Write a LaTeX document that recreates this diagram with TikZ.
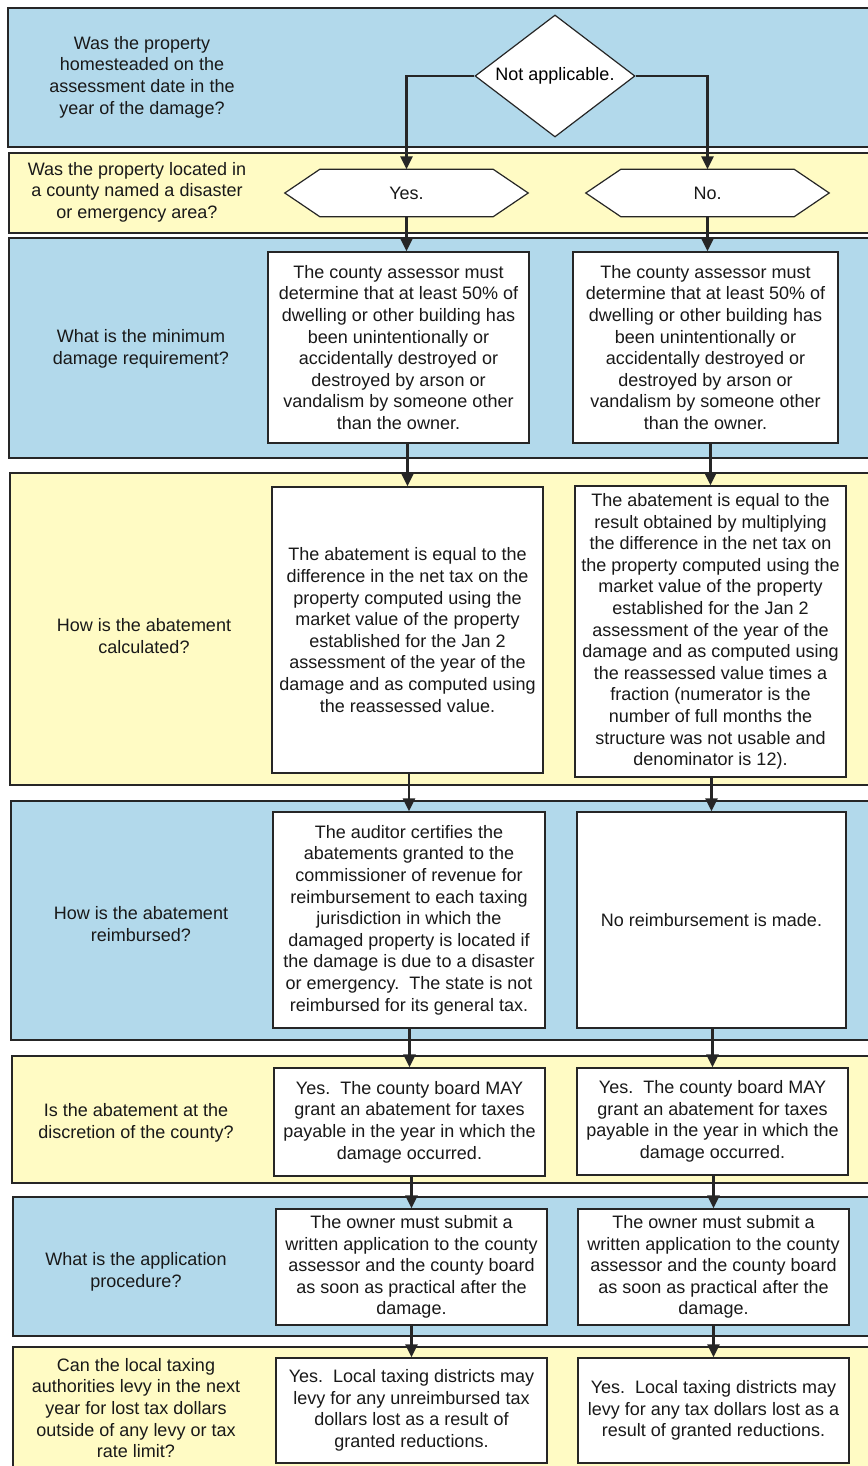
\documentclass[tikz,border=0pt]{standalone}
\usepackage{fontspec}
\setmainfont{Liberation Sans}
\usetikzlibrary{arrows.meta,shapes.geometric}
\definecolor{bandblue}{RGB}{178,217,235}
\definecolor{bandyellow}{RGB}{255,251,196}
\definecolor{ink}{RGB}{38,38,38}
\begin{document}
\begin{tikzpicture}[x=1pt,y=-1pt,
  font=\fontsize{18}{21.6}\selectfont,
  blueband/.style={fill=bandblue,draw=ink,line width=1.5pt},
  yellowband/.style={fill=bandyellow,draw=ink,line width=1.5pt},
  question/.style={align=center,text=black!90,inner sep=0},
  answerbox/.style={draw=ink,fill=white,line width=1.2pt,align=center,inner sep=0,text=black!90},
  hexnode/.style={inner sep=0,minimum width=243pt,minimum height=47pt},
  flow/.style={draw=ink,line width=2.6pt,-{Triangle[length=13pt,width=12pt]}}]
\useasboundingbox (0,0) rectangle (867,1466);
% bands
\path[blueband] (8,8) rectangle (872,147);
\path[yellowband] (9,153) rectangle (872,233);
\path[blueband] (9,238) rectangle (872,458);
\path[yellowband] (10,473) rectangle (872,785);
\path[blueband] (11,801) rectangle (872,1040);
\path[yellowband] (12,1056) rectangle (872,1183);
\path[blueband] (13,1197) rectangle (872,1336);
\path[yellowband] (13,1347) rectangle (872,1475);
% questions
\node[question] (q1) at (142,77) {Was the property\\homesteaded on the\\assessment date in the\\year of the damage?};
\node[question] (q2) at (137,192) {Was the property located in\\a county named a disaster\\or emergency area?};
\node[question] (q3) at (141,349) {What is the minimum\\damage requirement?};
\node[question] (q4) at (144,636) {How is the abatement\\calculated?};
\node[question] (q5) at (141,924) {How is the abatement\\reimbursed?};
\node[question] (q6) at (136,1123) {Is the abatement at the\\discretion of the county?};
\node[question] (q7) at (136,1272) {What is the application\\procedure?};
\node[question] (q8) at (136,1408) {Can the local taxing\\authorities levy in the next\\year for lost tax dollars\\outside of any levy or tax\\rate limit?};
% diamond
\node[diamond,draw=ink,fill=white,line width=1.2pt,inner sep=0,aspect=1.31,minimum width=160pt,minimum height=122pt] (na) at (555,76) {Not applicable.};
% hexagons (outline drawn from node anchors)
\node[hexnode] (yes) at (406.5,193) {};
\node[hexnode] (no) at (707.5,193) {};
\foreach \h in {yes,no}{
  \draw[draw=ink,fill=white,line width=1.2pt] (\h.west) -- ([xshift=35pt]\h.north west) -- ([xshift=-35pt]\h.north east) -- (\h.east) -- ([xshift=-35pt]\h.south east) -- ([xshift=35pt]\h.south west) -- cycle;
}
\node[text=black!90] (yeslabel) at (yes) {Yes.};
\node[text=black!90] (nolabel) at (no) {No.};
% band 3
\node[answerbox,minimum width=261pt,minimum height=191pt] (b3l) at (398.5,347.5) {The county assessor must\\determine that at least 50\% of\\dwelling or other building has\\been unintentionally or\\accidentally destroyed or\\destroyed by arson or\\vandalism by someone other\\than the owner.};
\node[answerbox,minimum width=265pt,minimum height=191pt] (b3r) at (705.5,347.5) {The county assessor must\\determine that at least 50\% of\\dwelling or other building has\\been unintentionally or\\accidentally destroyed or\\destroyed by arson or\\vandalism by someone other\\than the owner.};
% band 4
\node[answerbox,minimum width=271pt,minimum height=286pt] (b4l) at (407.5,630) {The abatement is equal to the\\difference in the net tax on the\\property computed using the\\market value of the property\\established for the Jan 2\\assessment of the year of the\\damage and as computed using\\the reassessed value.};
\node[answerbox,minimum width=271pt,minimum height=291pt] (b4r) at (710.5,631.5) {The abatement is equal to the\\result obtained by multiplying\\the difference in the net tax on\\the property computed using the\\market value of the property\\established for the Jan 2\\assessment of the year of the\\damage and as computed using\\the reassessed value times a\\fraction (numerator is the\\number of full months the\\structure was not usable and\\denominator is 12).};
% band 5
\node[answerbox,minimum width=272pt,minimum height=216pt] (b5l) at (409,920) {The auditor certifies the\\abatements granted to the\\commissioner of revenue for\\reimbursement to each taxing\\jurisdiction in which the\\damaged property is located if\\the damage is due to a disaster\\or emergency.\ \ The state is not\\reimbursed for its general tax.};
\node[answerbox,minimum width=269pt,minimum height=216pt] (b5r) at (711.5,920) {No reimbursement is made.};
% band 6
\node[answerbox,minimum width=271pt,minimum height=108pt] (b6l) at (409.5,1122) {Yes.\ \ The county board MAY\\grant an abatement for taxes\\payable in the year in which the\\damage occurred.};
\node[answerbox,minimum width=271pt,minimum height=107pt] (b6r) at (712.5,1121.5) {Yes.\ \ The county board MAY\\grant an abatement for taxes\\payable in the year in which the\\damage occurred.};
% band 7
\node[answerbox,minimum width=271pt,minimum height=116pt] (b7l) at (411.5,1267) {The owner must submit a\\written application to the county\\assessor and the county board\\as soon as practical after the\\damage.};
\node[answerbox,minimum width=271pt,minimum height=116pt] (b7r) at (713.5,1267) {The owner must submit a\\written application to the county\\assessor and the county board\\as soon as practical after the\\damage.};
% band 8
\node[answerbox,minimum width=271pt,minimum height=105pt] (b8l) at (411.5,1410.5) {Yes.\ \ Local taxing districts may\\levy for any unreimbursed tax\\dollars lost as a result of\\granted reductions.};
\node[answerbox,minimum width=271pt,minimum height=105pt] (b8r) at (713.5,1410.5) {Yes.\ \ Local taxing districts may\\levy for any tax dollars lost as a\\result of granted reductions.};
% connectors
\draw[flow] (na.west) -| (yes.north);
\draw[flow] (na.east) -| (no.north);
\draw[flow] (yes.south) -- (yes.south |- b3l.north);
\draw[flow] (no.south) -- (no.south |- b3r.north);
\draw[flow] (b3l.south -| b4l.north) -- (b4l.north);
\draw[flow] (b3r.south -| b4r.north) -- (b4r.north);
\draw[flow] (b4l.south -| b5l.north) -- (b5l.north);
\draw[flow] (b4r.south -| b5r.north) -- (b5r.north);
\draw[flow] (b5l.south -| b6l.north) -- (b6l.north);
\draw[flow] (b5r.south -| b6r.north) -- (b6r.north);
\draw[flow] (b6l.south -| b7l.north) -- (b7l.north);
\draw[flow] (b6r.south -| b7r.north) -- (b7r.north);
\draw[flow] (b7l.south -| b8l.north) -- (b8l.north);
\draw[flow] (b7r.south -| b8r.north) -- (b8r.north);
\end{tikzpicture}
\end{document}
